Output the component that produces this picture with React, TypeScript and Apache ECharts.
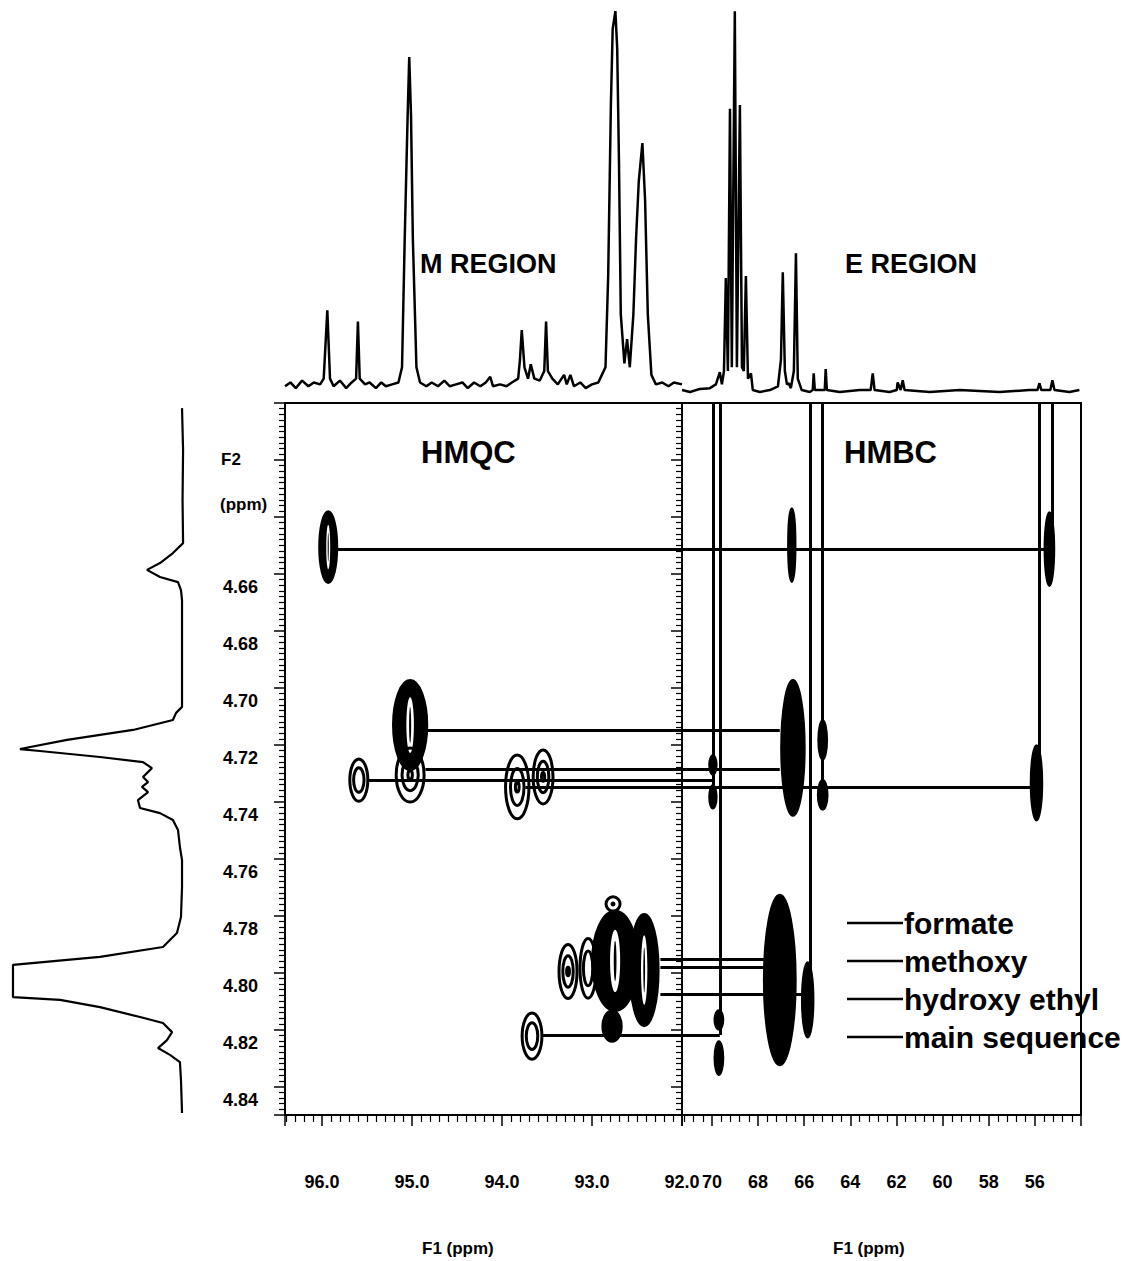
import React, { useEffect, useRef } from 'react';
import * as echarts from 'echarts';

const FONT = '"Liberation Sans", Arial, Helvetica, sans-serif';

// ---- axis ranges (ppm) ----
const hmqcC: [number, number] = [92.0, 96.41];
const hmbcC: [number, number] = [54.0, 71.3];
const protonH: [number, number] = [4.6, 4.85];

const hmqcTickLabels = ['96.0', '95.0', '94.0', '93.0', '92.0'];
const hmbcTickLabels = ['70', '68', '66', '64', '62', '60', '58', '56'];
const protonTickLabels = ['4.66', '4.68', '4.70', '4.72', '4.74', '4.76', '4.78', '4.80', '4.82', '4.84'];

// ---- 13C spectrum, M region [ppm, intensity] ----
const mSpectrum: [number, number][] = [
  [96.41, 1], [96.35, 2], [96.29, 0.5], [96.22, 2.5], [96.15, 1], [96.09, 2], [96.02, 1.5], [95.98, 3],
  [95.94, 21], [95.91, 3], [95.87, 1], [95.8, 2.5], [95.73, 0.5], [95.67, 2], [95.62, 3], [95.6, 18],
  [95.58, 3], [95.52, 1.5], [95.47, 2], [95.4, 0.5], [95.34, 2], [95.29, 1], [95.22, 1.5], [95.15, 2],
  [95.11, 6], [95.08, 40], [95.05, 70], [95.03, 87.6], [95.01, 72], [94.99, 40], [94.95, 6], [94.91, 2],
  [94.84, 1], [94.78, 2], [94.71, 1], [94.64, 2.5], [94.58, 1], [94.51, 1.5], [94.44, 2], [94.38, 0.5],
  [94.31, 2], [94.24, 1], [94.18, 2], [94.13, 3.5], [94.1, 1], [94.02, 1.5], [93.95, 1], [93.89, 2],
  [93.82, 3], [93.8, 8], [93.78, 15.8], [93.75, 6], [93.71, 3], [93.68, 6.8], [93.64, 3], [93.58, 2.5],
  [93.53, 5], [93.51, 18], [93.49, 5], [93.44, 3], [93.38, 1.5], [93.31, 4], [93.28, 1.5], [93.24, 4],
  [93.2, 1], [93.13, 2], [93.07, 0.5], [93.0, 1.5], [92.93, 2], [92.89, 4], [92.85, 6], [92.82, 30],
  [92.79, 75], [92.77, 95], [92.74, 99.7], [92.72, 90], [92.7, 60], [92.68, 20], [92.64, 7], [92.61, 13.4],
  [92.58, 6], [92.54, 20], [92.51, 40], [92.48, 55], [92.44, 65], [92.41, 50], [92.38, 20], [92.34, 4],
  [92.29, 1.5], [92.22, 2], [92.15, 1], [92.09, 2], [92.0, 1.5],
];

// ---- 13C spectrum, E region [ppm, intensity] ----
const eSpectrum: [number, number][] = [
  [71.3, 0], [70.95, -0.5], [70.52, 0.3], [70.09, 0.5], [69.83, 1.5], [69.66, 4.7], [69.57, 1.5], [69.48, 5],
  [69.4, 29.5], [69.31, 5], [69.22, 74], [69.14, 6], [69.01, 99.7], [68.92, 6], [68.79, 75], [68.7, 6],
  [68.62, 5], [68.53, 30], [68.44, 3], [68.31, 4.4], [68.23, 0], [67.92, -0.5], [67.49, 0], [67.14, 1],
  [67.01, 8], [66.93, 31], [66.84, 5], [66.75, 1.5], [66.67, 1.8], [66.58, 0.5], [66.45, 5], [66.36, 36],
  [66.28, 3], [66.11, 0], [65.76, -0.5], [65.63, 0], [65.59, 4.4], [65.54, 0], [65.11, 0], [65.07, 5.5],
  [65.02, 0], [64.46, -0.5], [63.59, 0], [63.12, 0], [63.03, 4.4], [62.95, 0], [62.3, -0.5], [61.99, 0],
  [61.95, 2], [61.82, 0], [61.73, 2.6], [61.65, 0], [60.56, -0.5], [59.26, 0], [57.53, -0.5], [56.24, 0],
  [55.89, 0], [55.8, 1.8], [55.72, 0], [55.33, 0], [55.24, 2.6], [55.15, 0], [54.5, -0.5], [54.07, 0],
];

// ---- 1H spectrum [intensity, ppm] ----
const hSpectrum: [number, number][] = [
  [1.7, 4.6018], [1.1, 4.6165], [1.4, 4.6341], [1.1, 4.6492], [6.9, 4.6527], [14.3, 4.6562], [21.7, 4.6586],
  [14.3, 4.6611], [4, 4.6629], [2.3, 4.6657], [1.7, 4.6692], [1.7, 4.6867], [1.7, 4.7067], [5.1, 4.7088],
  [6.9, 4.7113], [29.7, 4.7148], [67.4, 4.7183], [94.3, 4.7215], [82.9, 4.7222], [48.6, 4.7243], [24, 4.7261],
  [18.9, 4.7282], [24, 4.7313], [21.1, 4.7331], [24.6, 4.7348], [21.1, 4.7366], [26.9, 4.7394], [25.7, 4.7422],
  [14.3, 4.744], [6.9, 4.7464], [4, 4.7499], [2.9, 4.7559], [1.7, 4.7605], [1.7, 4.7699], [2.3, 4.7805],
  [4.6, 4.7861], [12.6, 4.791], [48.6, 4.7945], [98.3, 4.7973], [98.3, 4.8086], [71.4, 4.8096], [48.6, 4.8121],
  [25.7, 4.8156], [12.6, 4.8177], [7.4, 4.8209], [10.3, 4.8237], [15.4, 4.8265], [8.6, 4.8289], [2.9, 4.8314],
  [2.3, 4.8377], [1.7, 4.8493],
];

// ---- HMQC cross peaks [13C ppm, 1H ppm, half-width C, half-height H, contour levels] ----
const hmqcPeaks: [number, number, number, number, number][] = [
  [95.93, 4.6506, 0.1, 0.0126, 5],
  [95.02, 4.7131, 0.19, 0.0158, 6],
  [95.02, 4.7306, 0.155, 0.0095, 3],
  [95.59, 4.7324, 0.1, 0.0074, 2],
  [93.83, 4.7348, 0.13, 0.0112, 3],
  [93.543, 4.7313, 0.11, 0.0095, 3],
  [93.043, 4.7985, 0.09, 0.0105, 2],
  [92.743, 4.7959, 0.255, 0.0176, 6],
  [92.42, 4.7991, 0.16, 0.0197, 5],
  [92.777, 4.8188, 0.11, 0.0056, 7],
  [92.766, 4.7759, 0.078, 0.0025, 1],
  [93.266, 4.7996, 0.1, 0.0095, 3],
  [93.666, 4.8223, 0.11, 0.0081, 2],
];

// ---- HMBC cross peaks ----
const hmbcPeaks: [number, number, number, number, number][] = [
  [66.54, 4.6499, 0.17, 0.013, 9],
  [55.37, 4.6513, 0.22, 0.013, 9],
  [66.49, 4.7211, 0.52, 0.0239, 9],
  [65.2, 4.7183, 0.2, 0.007, 9],
  [65.2, 4.7376, 0.22, 0.0053, 9],
  [69.96, 4.7271, 0.17, 0.0035, 9],
  [69.96, 4.7383, 0.17, 0.0042, 9],
  [55.93, 4.7334, 0.26, 0.0133, 9],
  [67.06, 4.8026, 0.7, 0.03, 9],
  [65.85, 4.8096, 0.26, 0.0133, 9],
  [69.7, 4.8166, 0.2, 0.0035, 9],
  [69.7, 4.83, 0.2, 0.006, 9],
];

// ---- connector lines [1H ppm, HMQC start C ppm, HMBC end C ppm] ----
const connectors: [number, number, number][] = [
  [4.6513, 95.83, 55.37],
  [4.7148, 94.83, 67.06],
  [4.7285, 94.85, 67.06],
  [4.7324, 95.49, 69.96],
  [4.7348, 93.74, 55.8],
  [4.7952, 92.24, 67.49],
  [4.798, 92.24, 67.49],
  [4.8075, 92.24, 65.76],
  [4.8219, 93.55, 69.66],
];

// ---- HMBC vertical lines [C ppm, end 1H ppm] ----
const hmbcVerticals: [number, number][] = [
  [69.96, 4.7394],
  [69.66, 4.8219],
  [65.76, 4.8096],
  [65.24, 4.7394],
  [55.8, 4.7359],
  [55.24, 4.6516],
];

const legendLabels = ['formate', 'methoxy', 'hydroxy ethyl', 'main sequence'];

function contourRender(params: any, api: any) {
  const c = api.coord([api.value(0), api.value(1)]);
  const s = api.size([api.value(2) * 2, api.value(3) * 2], [api.value(0), api.value(1)]);
  const rx = Math.abs(s[0]) / 2;
  const ry = Math.abs(s[1]) / 2;
  const levels = api.value(4);
  const children: any[] = [];
  if (levels >= 7) {
    children.push({ type: 'ellipse', shape: { cx: c[0], cy: c[1], rx, ry }, style: { fill: '#000', stroke: '#000', lineWidth: 1.5 } });
  } else if (levels >= 4) {
    children.push({ type: 'ellipse', shape: { cx: c[0], cy: c[1], rx, ry }, style: { fill: '#000', stroke: '#000', lineWidth: 2 } });
    children.push({ type: 'ellipse', shape: { cx: c[0], cy: c[1], rx: rx * 0.22, ry: ry * 0.62 }, style: { fill: '#fff' } });
    children.push({ type: 'ellipse', shape: { cx: c[0], cy: c[1], rx: rx * 0.06, ry: ry * 0.4 }, style: { fill: '#000' } });
  } else {
    for (let i = 0; i < levels; i++) {
      const f = 1 - i * 0.42;
      children.push({ type: 'ellipse', shape: { cx: c[0], cy: c[1], rx: rx * f, ry: ry * f }, style: { fill: 'none', stroke: '#000', lineWidth: 3 } });
    }
    if (levels === 1) {
      children.push({ type: 'ellipse', shape: { cx: c[0], cy: c[1], rx: rx * 0.35, ry: ry * 0.35 }, style: { fill: '#000' } });
    }
  }
  return { type: 'group', children };
}

export default function App() {
  const ref = useRef<HTMLDivElement>(null);
  useEffect(() => {
    const chart = echarts.init(ref.current as HTMLDivElement, null, { renderer: 'svg' });
    const black = '#000';
    const tickLabelStyle = { color: black, fontFamily: FONT, fontWeight: 'bold' as const, fontSize: 18 };

    const hmqcLinks = connectors.map(([h, cM]) => ({ coords: [[cM, h], [hmqcC[0], h]] }));
    const hmbcLinks = connectors.map(([h, , cE]) => ({ coords: [[hmbcC[1], h], [cE, h]] }));
    const vLinks = hmbcVerticals.map(([c, hEnd]) => ({ coords: [[c, protonH[0]], [c, hEnd]] }));

    const legendGraphics: any[] = [];
    legendLabels.forEach((label, i) => {
      const y = 923 + i * 38;
      legendGraphics.push({ type: 'line', shape: { x1: 847, y1: y, x2: 903, y2: y }, style: { stroke: black, lineWidth: 2.5 } });
      legendGraphics.push({ type: 'text', x: 904, y, style: { text: label, font: `bold 30px ${FONT}`, fill: black, align: 'left', verticalAlign: 'middle' } });
    });

    const txt = (text: string, x: number, y: number, size: number) => ({
      type: 'text', x, y, style: { text, font: `bold ${size}px ${FONT}`, fill: black, align: 'left', verticalAlign: 'middle' },
    });

    const option: any = {
      animation: false,
      backgroundColor: '#fff',
      grid: [
        { left: 285, top: 403, width: 397, height: 712, show: true, borderColor: black, borderWidth: 2, backgroundColor: 'transparent' },
        { left: 682, top: 403, width: 399, height: 712, show: true, borderColor: black, borderWidth: 2, backgroundColor: 'transparent' },
        { left: 285, top: 10, width: 397, height: 385 },
        { left: 682, top: 10, width: 399, height: 385 },
        { left: 10, top: 403, width: 175, height: 712 },
      ],
      xAxis: [
        {
          gridIndex: 0, type: 'value', inverse: true, min: hmqcC[0], max: hmqcC[1], interval: 1, position: 'bottom',
          axisLine: { show: true, lineStyle: { color: black, width: 2 } },
          axisTick: { show: true, length: 11, lineStyle: { color: black, width: 1.5 } },
          minorTick: { show: true, splitNumber: 10, length: 7, lineStyle: { color: black, width: 1.2 } },
          splitLine: { show: false },
          axisLabel: {
            ...tickLabelStyle, margin: 58, showMaxLabel: false,
            formatter: (v: number) => (hmqcTickLabels.includes(v.toFixed(1)) ? v.toFixed(1) : ''),
          },
        },
        {
          gridIndex: 1, type: 'value', inverse: true, min: hmbcC[0], max: hmbcC[1], interval: 2, position: 'bottom',
          axisLine: { show: true, lineStyle: { color: black, width: 2 } },
          axisTick: { show: true, length: 11, lineStyle: { color: black, width: 1.5 } },
          minorTick: { show: true, splitNumber: 5, length: 7, lineStyle: { color: black, width: 1.2 } },
          splitLine: { show: false },
          axisLabel: {
            ...tickLabelStyle, margin: 58, showMaxLabel: false, showMinLabel: false,
            formatter: (v: number) => {
              const s = String(Math.round(v * 100) / 100);
              return hmbcTickLabels.includes(s) ? s : '';
            },
          },
        },
        { gridIndex: 2, type: 'value', inverse: true, min: hmqcC[0], max: hmqcC[1], show: false },
        { gridIndex: 3, type: 'value', inverse: true, min: hmbcC[0], max: hmbcC[1], show: false },
        { gridIndex: 4, type: 'value', inverse: true, min: 0, max: 100, show: false },
      ],
      yAxis: [
        {
          gridIndex: 0, type: 'value', inverse: true, min: protonH[0], max: protonH[1], interval: 0.02, position: 'left',
          axisLine: { show: true, lineStyle: { color: black, width: 2 } },
          axisTick: { show: true, length: 11, lineStyle: { color: black, width: 1.5 } },
          minorTick: { show: true, splitNumber: 10, length: 6, lineStyle: { color: black, width: 1.2 } },
          splitLine: { show: false },
          axisLabel: {
            ...tickLabelStyle, margin: 27, verticalAlign: 'top', padding: [4, 0, 0, 0], showMaxLabel: false,
            formatter: (v: number) => (protonTickLabels.includes(v.toFixed(2)) ? v.toFixed(2) : ''),
          },
        },
        {
          gridIndex: 0, type: 'value', inverse: true, min: protonH[0], max: protonH[1], interval: 0.02, position: 'right',
          axisLine: { show: true, lineStyle: { color: black, width: 2 } },
          axisTick: { show: true, inside: true, length: 11, lineStyle: { color: black, width: 1.5 } },
          minorTick: { show: true, splitNumber: 10, length: 6, lineStyle: { color: black, width: 1.2 } },
          splitLine: { show: false },
          axisLabel: { show: false },
        },
        { gridIndex: 1, type: 'value', inverse: true, min: protonH[0], max: protonH[1], show: false },
        { gridIndex: 2, type: 'value', min: -1.3, max: 100, show: false },
        { gridIndex: 3, type: 'value', min: -1.3, max: 100, show: false },
        { gridIndex: 4, type: 'value', inverse: true, min: protonH[0], max: protonH[1], show: false },
      ],
      series: [
        {
          type: 'line', xAxisIndex: 2, yAxisIndex: 3, data: mSpectrum, showSymbol: false, symbol: 'none',
          lineStyle: { color: black, width: 2.5 }, silent: true,
        },
        {
          type: 'line', xAxisIndex: 3, yAxisIndex: 4, data: eSpectrum, showSymbol: false, symbol: 'none',
          lineStyle: { color: black, width: 2.5 }, silent: true,
        },
        {
          type: 'line', xAxisIndex: 4, yAxisIndex: 5, data: hSpectrum, showSymbol: false, symbol: 'none',
          lineStyle: { color: black, width: 2.2 }, silent: true,
        },
        {
          type: 'lines', coordinateSystem: 'cartesian2d', xAxisIndex: 0, yAxisIndex: 0, data: hmqcLinks, z: 3,
          lineStyle: { color: black, width: 3, opacity: 1, curveness: 0 }, silent: true,
        },
        {
          type: 'lines', coordinateSystem: 'cartesian2d', xAxisIndex: 1, yAxisIndex: 2, data: hmbcLinks, z: 3,
          lineStyle: { color: black, width: 3, opacity: 1, curveness: 0 }, silent: true,
        },
        {
          type: 'lines', coordinateSystem: 'cartesian2d', xAxisIndex: 1, yAxisIndex: 2, data: vLinks, z: 3,
          lineStyle: { color: black, width: 3, opacity: 1, curveness: 0 }, silent: true,
        },
        {
          type: 'custom', xAxisIndex: 0, yAxisIndex: 0, data: hmqcPeaks, renderItem: contourRender, z: 4,
          encode: { x: 0, y: 1 }, silent: true,
        },
        {
          type: 'custom', xAxisIndex: 1, yAxisIndex: 2, data: hmbcPeaks, renderItem: contourRender, z: 4,
          encode: { x: 0, y: 1 }, silent: true,
        },
      ],
      graphic: [
        txt('M REGION', 420, 264, 27),
        txt('E REGION', 845, 264, 27),
        txt('HMQC', 421, 452, 31),
        txt('HMBC', 844, 452, 31),
        txt('F2', 221, 459, 17),
        txt('(ppm)', 220, 504, 17),
        txt('F1 (ppm)', 422, 1248, 17),
        txt('F1 (ppm)', 833, 1248, 17),
        ...legendGraphics,
      ],
    };
    chart.setOption(option);
    return () => chart.dispose();
  }, []);
  return <div ref={ref} style={{ position: 'absolute', left: 0, top: 0, width: 1145, height: 1261 }} />;
}
